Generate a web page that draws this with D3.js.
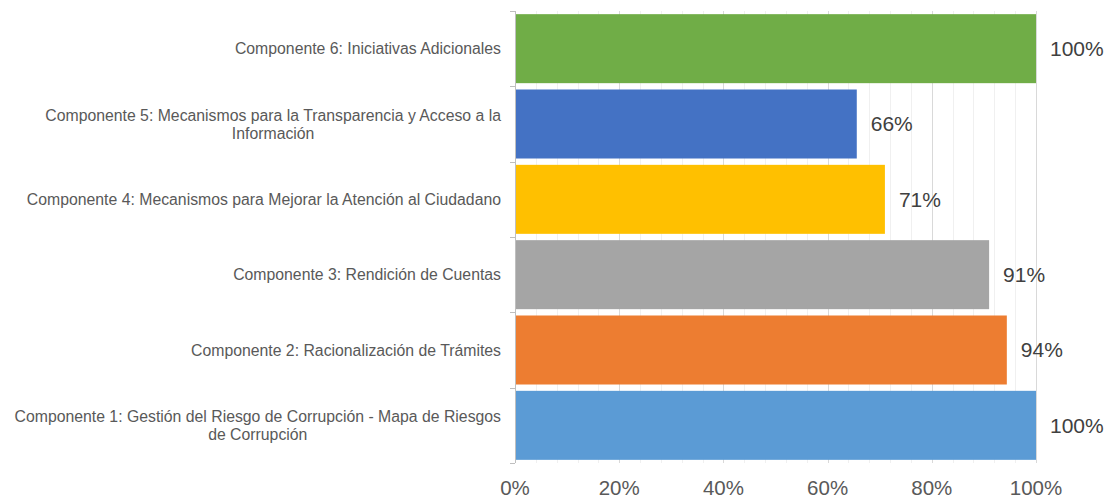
<!DOCTYPE html>
<html>
<head>
<meta charset="utf-8">
<script src="https://cdn.jsdelivr.net/npm/d3@7"></script>
<style>
  body { margin: 0; background: #fff; }
  text { font-family: "Liberation Sans", Arial, sans-serif; }
</style>
</head>
<body>
<div id="chart"></div>
<script>
// data, top to bottom as drawn
var categories = [
  "Componente 6: Iniciativas Adicionales",
  "Componente 5: Mecanismos para la Transparencia y Acceso a la|Información",
  "Componente 4: Mecanismos para Mejorar la Atención al Ciudadano",
  "Componente 3: Rendición de Cuentas",
  "Componente 2: Racionalización de Trámites",
  "Componente 1: Gestión del Riesgo de Corrupción - Mapa de Riesgos|de Corrupción"
];
var values = [1.00, 0.656, 0.71, 0.91, 0.944, 1.00];
var colors = ["#70AD47", "#4472C4", "#FFC000", "#A5A5A5", "#ED7D31", "#5B9BD5"];
var majorTicks = [0, 0.2, 0.4, 0.6, 0.8, 1.0];

var width = 1104, height = 495;
var plotLeft = 515, plotRight = 1036, plotTop = 11, plotBottom = 463;

var svg = d3.select('#chart')
  .append('svg')
  .attr('width', width)
  .attr('height', height);

var x = d3.scaleLinear().domain([0, 1]).range([plotLeft, plotRight]);
var y = d3.scaleBand()
  .domain(d3.range(categories.length))
  .range([plotTop, plotBottom])
  .paddingInner(0.084)
  .paddingOuter(0.042);

// minor gridlines every 4%
var minor = d3.range(1, 26).map(function(i) { return i * 0.04; })
  .filter(function(v) { return Math.abs(v * 5 - Math.round(v * 5)) > 1e-6; });
svg.append('g').selectAll('line')
  .data(minor)
  .enter()
  .append('line')
  .attr('x1', function(d) { return Math.round(x(d)) + 0.5; })
  .attr('x2', function(d) { return Math.round(x(d)) + 0.5; })
  .attr('y1', plotTop)
  .attr('y2', plotBottom)
  .attr('stroke', '#f0f0f0');

// major gridlines
svg.append('g').selectAll('line')
  .data(majorTicks.slice(1))
  .enter()
  .append('line')
  .attr('x1', function(d) { return Math.round(x(d)) + 0.5; })
  .attr('x2', function(d) { return Math.round(x(d)) + 0.5; })
  .attr('y1', plotTop)
  .attr('y2', plotBottom)
  .attr('stroke', '#d9d9d9');

// bars
svg.append('g').selectAll('rect')
  .data(values)
  .enter()
  .append('rect')
  .attr('x', x(0))
  .attr('y', function(d, i) { return y(i); })
  .attr('width', function(d) { return x(d) - x(0); })
  .attr('height', y.bandwidth())
  .attr('fill', function(d, i) { return colors[i]; });

// vertical axis line + category ticks
var step = y.step();
svg.append('line')
  .attr('x1', plotLeft + 0.5).attr('x2', plotLeft + 0.5)
  .attr('y1', plotTop).attr('y2', plotBottom)
  .attr('stroke', '#bfbfbf');
var bounds = d3.range(categories.length + 1).map(function(i) { return plotTop + i * step; });
svg.append('g').selectAll('line')
  .data(bounds)
  .enter()
  .append('line')
  .attr('x1', plotLeft - 5).attr('x2', plotLeft)
  .attr('y1', function(d) { return Math.round(d) + 0.5; })
  .attr('y2', function(d) { return Math.round(d) + 0.5; })
  .attr('stroke', '#bfbfbf');

// value labels
svg.append('g').selectAll('text')
  .data(values)
  .enter()
  .append('text')
  .attr('x', function(d) { return x(d) + 14; })
  .attr('y', function(d, i) { return y(i) + y.bandwidth() / 2; })
  .attr('dy', '0.35em')
  .attr('font-size', 21)
  .attr('fill', '#404040')
  .text(function(d) { return Math.round(d * 100) + '%'; });

// x tick labels
svg.append('g').selectAll('text')
  .data(majorTicks)
  .enter()
  .append('text')
  .attr('x', function(d) { return x(d); })
  .attr('y', 494.5)
  .attr('text-anchor', 'middle')
  .attr('font-size', 20.5)
  .attr('fill', '#595959')
  .text(d3.format('.0%'));

// category labels: block right-aligned, lines centred
var labelRight = 501;
var lg = svg.append('g');
categories.forEach(function(c, i) {
  var lines = c.split('|');
  var cy = y(i) + y.bandwidth() / 2;
  var lh = 18;
  var t = lg.append('text')
    .attr('font-size', 15.8)
    .attr('fill', '#595959');
  var spans = lines.map(function(l, j) {
    return t.append('tspan')
      .attr('y', cy + (j - (lines.length - 1) / 2) * lh)
      .attr('dy', '0.35em')
      .text(l);
  });
  var maxW = d3.max(spans, function(s) { return s.node().getComputedTextLength(); });
  spans.forEach(function(s) {
    s.attr('x', labelRight - maxW / 2).attr('text-anchor', 'middle');
  });
});
</script>
</body>
</html>
